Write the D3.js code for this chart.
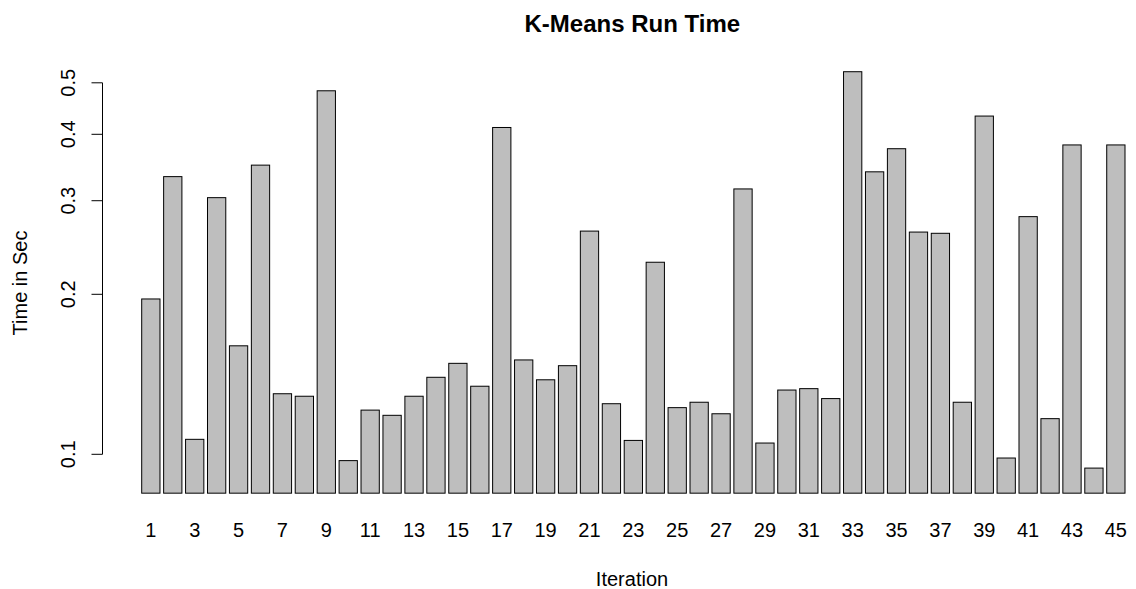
<!DOCTYPE html>
<html>
<head>
<meta charset="utf-8">
<script src="https://cdn.jsdelivr.net/npm/d3@7"></script>
<style>
  body { margin: 0; background: #fff; }
  text { font-family: "Liberation Sans", Arial, sans-serif; fill: #000; }
</style>
</head>
<body>
<script>
// data
const iterations = d3.range(1, 46);
const runTimes = [
  0.196, 0.333, 0.1067, 0.304, 0.160, 0.350, 0.130, 0.1286, 0.483, 0.0973,
  0.1211, 0.1184, 0.1286, 0.1396, 0.1483, 0.1343, 0.412, 0.1505, 0.1381, 0.1468,
  0.263, 0.1245, 0.1062, 0.2298, 0.1224, 0.1253, 0.1192, 0.3157, 0.1050, 0.1321,
  0.1329, 0.1273, 0.5246, 0.340, 0.3758, 0.2619, 0.2605, 0.1253, 0.4329, 0.0984,
  0.280, 0.1167, 0.382, 0.0942, 0.382
];
const yTicks = [0.1, 0.2, 0.3, 0.4, 0.5];
const yFloor = 0.0845; // lower limit of the log axis, bars start here

// config
const config = {
  width: 1136,
  height: 589,
  barLeft: 141.7,
  barRight: 1125,
  barFill: '#bebebe',
  barStroke: '#000',
  axisX: 102.5,
  tickLength: 11,
  fontSize: 20,
  titleSize: 24,
};

let svg = d3.select('body')
  .append('svg')
  .attr('width', config.width)
  .attr('height', config.height);

// R barplot: width 1, space 0.2
let x = d3.scaleBand()
  .domain(iterations)
  .range([config.barLeft, config.barRight])
  .paddingInner(0.2 / 1.2)
  .paddingOuter(0);

let y = d3.scaleLog()
  .domain([0.1, 0.5])
  .range([454.3, 82.8]);

let baseY = y(yFloor);

// bars
svg.append('g')
  .selectAll('rect')
  .data(runTimes)
  .enter().append('rect')
  .attr('x', (d, i) => x(iterations[i]))
  .attr('y', (d) => y(d))
  .attr('width', x.bandwidth())
  .attr('height', (d) => baseY - y(d))
  .style('fill', config.barFill)
  .style('stroke', config.barStroke)
  .style('stroke-width', 1);

// y axis (line only spans the tick range, like base R)
let yAxis = svg.append('g');
yAxis.append('line')
  .attr('x1', config.axisX).attr('x2', config.axisX)
  .attr('y1', y(yTicks[0])).attr('y2', y(yTicks[yTicks.length - 1]))
  .style('stroke', '#000');

yAxis.selectAll('.tick')
  .data(yTicks)
  .enter().append('line')
  .attr('x1', config.axisX - config.tickLength).attr('x2', config.axisX)
  .attr('y1', (d) => y(d)).attr('y2', (d) => y(d))
  .style('stroke', '#000');

yAxis.selectAll('.tickLabel')
  .data(yTicks)
  .enter().append('text')
  .attr('transform', (d) => `translate(75, ${y(d)}) rotate(-90)`)
  .style('text-anchor', 'middle')
  .style('font-size', config.fontSize + 'px')
  .text((d) => d3.format('.1f')(d));

// bar names: R drops the ones that would overlap, so only every other one shows
svg.append('g')
  .selectAll('text')
  .data(iterations.filter((d, i) => i % 2 === 0))
  .enter().append('text')
  .attr('x', (d) => x(d) + x.bandwidth() / 2)
  .attr('y', 537.3)
  .style('text-anchor', 'middle')
  .style('font-size', config.fontSize + 'px')
  .text((d) => d);

// title and axis labels
svg.append('text')
  .attr('x', 632.3)
  .attr('y', 31.5)
  .style('text-anchor', 'middle')
  .style('font-size', config.titleSize + 'px')
  .style('font-weight', 'bold')
  .text('K-Means Run Time');

svg.append('text')
  .attr('x', 632)
  .attr('y', 586)
  .style('text-anchor', 'middle')
  .style('font-size', config.fontSize + 'px')
  .text('Iteration');

svg.append('text')
  .attr('transform', 'translate(27, 283) rotate(-90)')
  .style('text-anchor', 'middle')
  .style('font-size', config.fontSize + 'px')
  .text('Time in Sec');
</script>
</body>
</html>
